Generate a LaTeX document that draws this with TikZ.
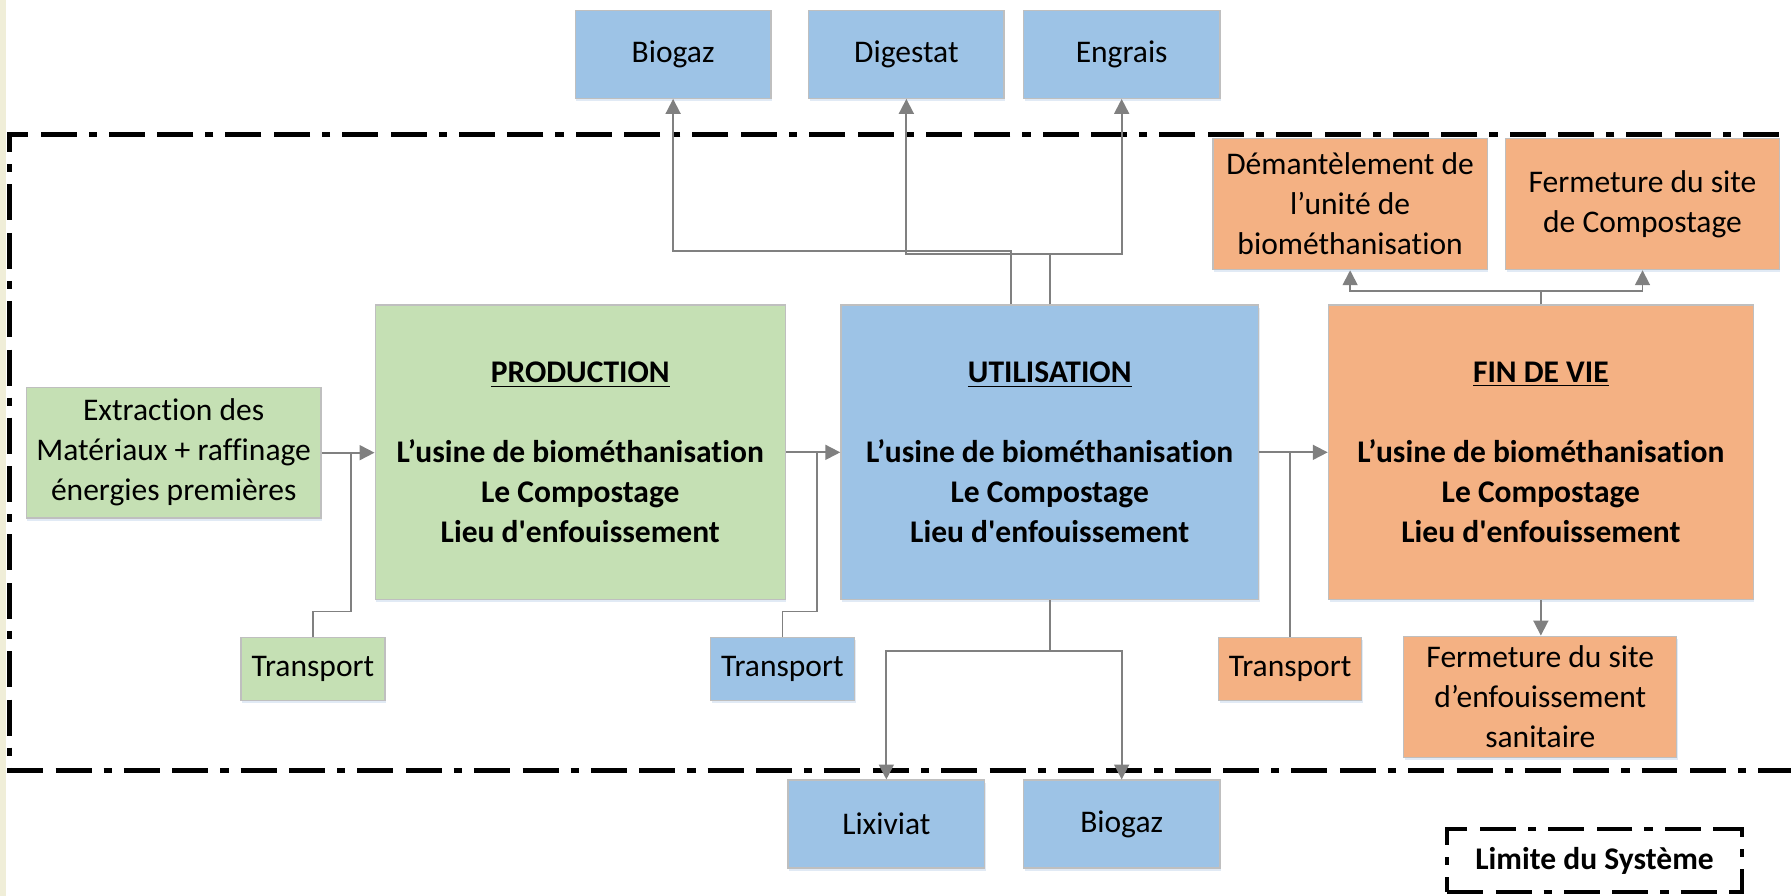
\documentclass[tikz,border=0pt]{standalone}
\usepackage{fontspec}
\setmainfont{Carlito}[Ligatures={TeX,NoCommon}]
\usetikzlibrary{arrows.meta,shadows}

\definecolor{boxblue}{HTML}{9DC3E6}
\definecolor{boxgreen}{HTML}{C5E0B4}
\definecolor{boxorange}{HTML}{F4B183}
\definecolor{boxedge}{HTML}{BFBFBF}
\definecolor{linkgray}{HTML}{808080}
\definecolor{margincream}{RGB}{240,238,216}
\definecolor{shade}{RGB}{205,220,238}

\newcommand\diagfont{\fontsize{13.8pt}{17.5pt}\selectfont}

\tikzset{
  stage/.style={draw=boxedge, line width=0.6pt, align=center, inner sep=0pt,
    font=\diagfont,
    drop shadow={shadow xshift=0.5pt, shadow yshift=-1.2pt, fill=shade, opacity=0.6}},
  bigstage/.style={stage, font=\diagfont\bfseries},
  boundary/.style={line width=2pt,
    dash pattern=on 15.75pt off 5.5pt on 15.75pt off 5.25pt on 3.6pt off 5.25pt},
  conn/.style={draw=linkgray, line width=0.8pt},
  arr/.style={conn, -{Triangle[length=6.5pt,width=6.5pt]}},
}

\begin{document}
\begin{tikzpicture}[x=0.5pt, y=-0.5pt]
  \useasboundingbox (0,0) rectangle (1568,784);
  \clip (0,0) rectangle (1568,784);

  % cream margin on the left
  \fill[margincream] (0,0) rectangle (5.3,784);

  % system boundary (open on the right)
  \draw[boundary] (1600,117.6) -- (8.5,117.6) -- (8.5,674.5) -- (1600,674.5);

  % outputs above the boundary
  \node[stage, fill=boxblue, minimum width=85.7pt, minimum height=38.5pt] (bgA) at (589.3,47.5) {Biogaz};
  \node[stage, fill=boxblue, minimum width=85.5pt, minimum height=38.5pt] (dig) at (793.5,47.5) {Digestat};
  \node[stage, fill=boxblue, minimum width=86pt, minimum height=38.5pt] (eng) at (982,47.5) {Engrais};

  % end-of-life sub-steps
  \node[stage, fill=boxorange, minimum width=120pt, minimum height=57.5pt] (dem) at (1182,178.5)
    {Démantèlement de\\l’unité de\\biométhanisation};
  \node[stage, fill=boxorange, minimum width=119.75pt, minimum height=57.5pt] (fcomp) at (1438,178.5)
    {Fermeture du site\\de Compostage};

  % raw materials
  \node[stage, fill=boxgreen, minimum width=129pt, minimum height=57.3pt] (ext) at (152,396.3)
    {Extraction des\\Matériaux + raffinage\\énergies premières};

  % life-cycle stages
  \node[bigstage, fill=boxgreen, minimum width=179.5pt, minimum height=129pt] (prod) at (508,396)
    {\underline{PRODUCTION}\\~\\L’usine de biométhanisation\\Le Compostage\\Lieu d\textquotesingle enfouissement};
  \node[bigstage, fill=boxblue, minimum width=182.75pt, minimum height=129pt] (util) at (919,396)
    {\underline{UTILISATION}\\~\\L’usine de biométhanisation\\Le Compostage\\Lieu d\textquotesingle enfouissement};
  \node[bigstage, fill=boxorange, minimum width=186pt, minimum height=129pt] (fin) at (1349,396)
    {\underline{FIN DE VIE}\\~\\L’usine de biométhanisation\\Le Compostage\\Lieu d\textquotesingle enfouissement};

  % transport steps
  \node[stage, fill=boxgreen, minimum width=63pt, minimum height=27.5pt] (t1) at (274,585.5) {Transport};
  \node[stage, fill=boxblue, minimum width=63pt, minimum height=27.5pt] (t2) at (685,585.5) {Transport};
  \node[stage, fill=boxorange, minimum width=62.5pt, minimum height=27.5pt] (t3) at (1129.5,585.5) {Transport};

  \node[stage, fill=boxorange, minimum width=119.5pt, minimum height=53pt] (fenf) at (1348.5,610)
    {Fermeture du site\\d’enfouissement\\sanitaire};

  % outputs below the boundary
  \node[stage, fill=boxblue, minimum width=86pt, minimum height=38.5pt] (lix) at (776,721.5) {Lixiviat};
  \node[stage, fill=boxblue, minimum width=86pt, minimum height=38.5pt] (bgB) at (982,721.5) {Biogaz};

  % legend
  \node[boundary, draw, line width=1.8pt, minimum width=129pt, minimum height=27.5pt,
        font=\diagfont\bfseries] (lim) at (1396,753.5) {Limite du Système};

  % junction points of the transport links
  \coordinate (j1) at (307.5,396);
  \coordinate (j2) at (715,396);
  \coordinate (ua) at ([xshift=-17pt]util.north);

  % main flow
  \draw[arr] (ext.east) -- (ext.east -| prod.west);
  \draw[arr] (prod.east) -- (prod.east -| util.west);
  \draw[arr] (util.east) -- (util.east -| fin.west);

  % transport feeding into the flow
  \draw[conn] (t1.north) -- ++(0,-22) -| (j1);
  \draw[conn] (t2.north) -- ++(0,-22) -| (j2);
  \draw[conn] (t3.north) -- (t3.north |- util.east);

  % outputs of the utilisation stage
  \draw[arr] (ua) -- ++(0,-46.7) -| (bgA.south);
  \draw[arr] (util.north) -- ++(0,-44.4) -| (dig.south);
  \draw[arr] (util.north) -- ++(0,-44.4) -| (eng.south);
  \draw[arr] (util.south) -- ++(0,44) -| (lix.north);
  \draw[arr] (util.south) -- ++(0,44) -| (bgB.north);

  % end-of-life branches
  \draw[arr] (fin.north) -- ++(0,-12) -| (dem.south);
  \draw[arr] (fin.north) -- ++(0,-12) -| (fcomp.south);
  \draw[arr] (fin.south) -- (fin.south |- fenf.north);
\end{tikzpicture}
\end{document}
